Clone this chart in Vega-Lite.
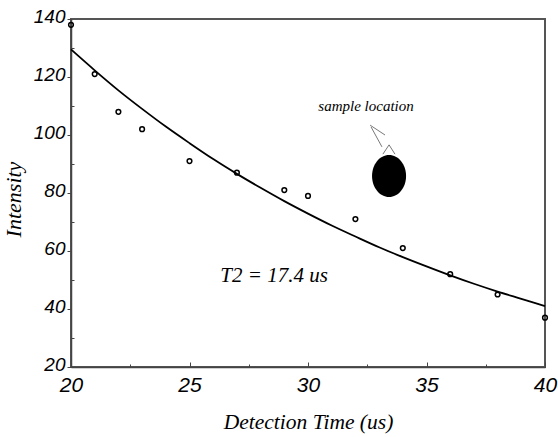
{
  "$schema": "https://vega.github.io/schema/vega-lite/v6.json",
  "autosize": {"type": "none"},
  "padding": {"left": 71, "top": 19, "right": 13, "bottom": 70},
  "width": 474,
  "height": 348,
  "background": "white",
  "config": {
    "view": {"stroke": "#555555", "strokeWidth": 2},
    "axis": {
      "grid": false,
      "domainColor": "#444444",
      "domainWidth": 1.5,
      "tickColor": "#444444",
      "tickWidth": 1,
      "labelColor": "black",
      "labelFont": "Liberation Sans",
      "labelFontStyle": "italic",
      "titleFont": "Liberation Serif",
      "titleFontStyle": "italic",
      "titleFontWeight": "normal",
      "titleColor": "black"
    }
  },
  "datasets": {
    "points": [
      {"x": 20, "y": 138}, {"x": 21, "y": 121}, {"x": 22, "y": 108}, {"x": 23, "y": 102},
      {"x": 25, "y": 91}, {"x": 27, "y": 87}, {"x": 29, "y": 81}, {"x": 30, "y": 79},
      {"x": 32, "y": 71}, {"x": 34, "y": 61}, {"x": 36, "y": 52}, {"x": 38, "y": 45},
      {"x": 40, "y": 37}
    ],
    "fit": [
      {"x": 20, "y": 129.5}, {"x": 21, "y": 122.3}, {"x": 22, "y": 115.4}, {"x": 23, "y": 109.0},
      {"x": 24, "y": 102.9}, {"x": 25, "y": 97.2}, {"x": 26, "y": 91.7}, {"x": 27, "y": 86.6},
      {"x": 28, "y": 81.8}, {"x": 29, "y": 77.2}, {"x": 30, "y": 72.9}, {"x": 31, "y": 68.8},
      {"x": 32, "y": 65.0}, {"x": 33, "y": 61.3}, {"x": 34, "y": 57.9}, {"x": 35, "y": 54.7},
      {"x": 36, "y": 51.6}, {"x": 37, "y": 48.7}, {"x": 38, "y": 46.0}, {"x": 39, "y": 43.5},
      {"x": 40, "y": 41.0}
    ],
    "segs": [
      {"x": 32.62, "y": 103.4, "x2": 33.25, "y2": 100.0},
      {"x": 32.66, "y": 102.8, "x2": 33.12, "y2": 95.9},
      {"x": 33.16, "y": 93.4, "x2": 33.42, "y2": 96.6},
      {"x": 33.42, "y": 96.6, "x2": 33.67, "y2": 93.4}
    ],
    "blob": [{"x": 33.42, "y": 85.9}],
    "note": [{"x": 32.45, "y": 110, "label": "sample location"}],
    "t2": [{"x": 28.57, "y": 51.4, "label": "T2 = 17.4 us"}]
  },
  "encoding": {
    "x": {
      "field": "x", "type": "quantitative",
      "scale": {"domain": [20, 40], "nice": false, "zero": false},
      "axis": {
        "title": "Detection Time (us)",
        "titleFontSize": 21.5,
        "titleY": 61,
        "titleBaseline": "alphabetic",
        "values": [20, 22.5, 25, 27.5, 30, 32.5, 35, 37.5, 40],
        "labelExpr": "datum.value % 5 == 0 ? datum.label : ''",
        "labelFontSize": 21,
        "labelPadding": 12,
        "tickSize": {"condition": {"test": "datum.value % 5 == 0", "value": -5}, "value": -3},
        "labelFlush": false
      }
    },
    "y": {
      "field": "y", "type": "quantitative",
      "scale": {"domain": [20, 140], "nice": false, "zero": false},
      "axis": {
        "title": "Intensity",
        "titleFontSize": 22,
        "titleX": -51,
        "titleY": 180,
        "titleBaseline": "alphabetic",
        "values": [20, 30, 40, 50, 60, 70, 80, 90, 100, 110, 120, 130, 140],
        "labelExpr": "datum.value % 20 == 0 ? datum.label : ''",
        "labelFontSize": 19,
        "labelPadding": 2,
        "labelOffset": -3,
        "tickSize": {"condition": {"test": "datum.value % 20 == 0", "value": 4}, "value": -3},
        "labelFlush": false
      }
    }
  },
  "layer": [
    {
      "data": {"name": "fit"},
      "mark": {"type": "line", "color": "black", "strokeWidth": 1.8, "interpolate": "monotone"}
    },
    {
      "data": {"name": "points"},
      "mark": {"type": "point", "shape": "circle", "filled": false, "color": "black", "size": 22, "strokeWidth": 1.5, "opacity": 1}
    },
    {
      "data": {"name": "segs"},
      "mark": {"type": "rule", "color": "#555555", "strokeWidth": 0.8},
      "encoding": {"x2": {"field": "x2"}, "y2": {"field": "y2"}}
    },
    {
      "data": {"name": "blob"},
      "mark": {"type": "point", "shape": "M-0.81,0A0.81,1,0,1,1,0.81,0A0.81,1,0,1,1,-0.81,0Z", "filled": true, "color": "black", "size": 1764, "opacity": 1}
    },
    {
      "data": {"name": "note"},
      "mark": {"type": "text", "font": "Liberation Serif", "fontStyle": "italic", "fontSize": 15, "color": "black"},
      "encoding": {"text": {"field": "label"}}
    },
    {
      "data": {"name": "t2"},
      "mark": {"type": "text", "font": "Liberation Serif", "fontStyle": "italic", "fontSize": 21, "color": "black"},
      "encoding": {"text": {"field": "label"}}
    }
  ]
}
